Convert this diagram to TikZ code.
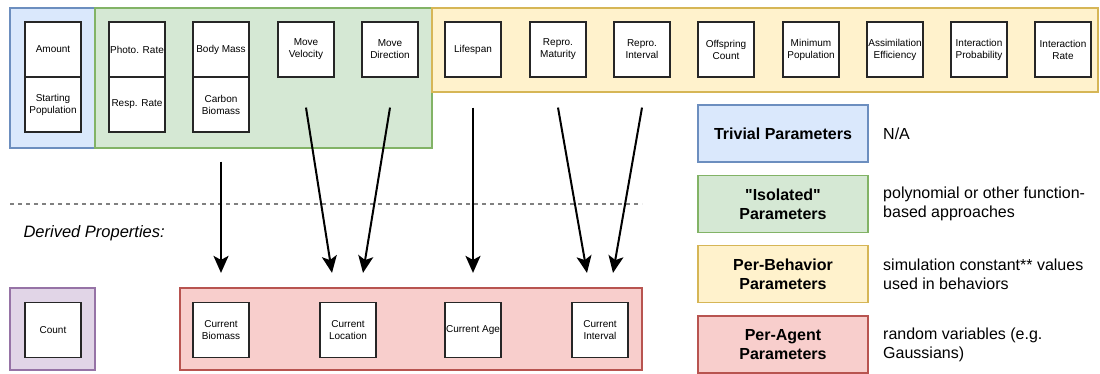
\documentclass[tikz,border=0pt]{standalone}
\usepackage{fontspec}
\setmainfont{Liberation Sans}
\usetikzlibrary{calc, arrows.meta}

\definecolor{trivFill}{HTML}{DAE8FC}
\definecolor{trivLine}{HTML}{6C8EBF}
\definecolor{isoFill}{HTML}{D5E8D4}
\definecolor{isoLine}{HTML}{82B366}
\definecolor{behFill}{HTML}{FFF2CC}
\definecolor{behLine}{HTML}{D6B656}
\definecolor{agentFill}{HTML}{F8CECC}
\definecolor{agentLine}{HTML}{B85450}
\definecolor{derFill}{HTML}{E1D5E7}
\definecolor{derLine}{HTML}{9673A6}

\begin{document}
\begin{tikzpicture}[x=1pt, y=-1pt,
  panel/.style={draw, line width=1.2pt},
  param/.style={draw=black!85, fill=white, line width=1.2pt, minimum width=56pt, minimum height=55pt,
    align=center, inner sep=1pt, font=\fontsize{10}{12}\selectfont},
  legendbox/.style={draw, line width=1.2pt, minimum width=170pt, minimum height=57pt,
    align=center, font=\fontsize{16}{19}\selectfont\bfseries},
  legendtext/.style={anchor=west, align=left, inner sep=0pt, font=\fontsize{16}{19}\selectfont},
  flow/.style={-{Stealth[length=17pt, width=15pt, inset=4pt]}, line width=2pt}]
\useasboundingbox (0,0) rectangle (1100,374);

% parameter groups
\draw[panel, draw=trivLine, fill=trivFill] (10,8) rectangle (95,148);
\draw[panel, draw=isoLine, fill=isoFill] (95,8) rectangle (432,148);
\draw[panel, draw=behLine, fill=behFill] (432,8) rectangle (1098,92);

\node[param] (amount) at (53,49.5) {Amount};
\node[param] (startpop) at (53,104.5) {Starting\\Population};
\node[param] (photo) at (137,49.5) {Photo. Rate};
\node[param] (resp) at (137,104.5) {Resp. Rate};
\node[param] (bodymass) at (221,49.5) {Body Mass};
\node[param] (carbon) at (221,104.5) {Carbon\\Biomass};
\node[param] (velocity) at (306,49.5) {Move\\Velocity};
\node[param] (direction) at (390,49.5) {Move\\Direction};

\node[param] (lifespan) at (473,49.5) {Lifespan};
\node[param] (maturity) at (558,49.5) {Repro.\\Maturity};
\node[param] (interval) at (642,49.5) {Repro.\\Interval};
\node[param] (offspring) at (726,49.5) {Offspring\\Count};
\node[param] (minpop) at (811,49.5) {Minimum\\Population};
\node[param] (assim) at (895,49.5) {Assimilation\\Efficiency};
\node[param] (intprob) at (979,49.5) {Interaction\\Probability};
\node[param] (intrate) at (1063,49.5) {Interaction\\Rate};

% derived properties
\draw[gray, line width=1.2pt, dash pattern=on 4pt off 4pt] (10,204) -- (642,204);
\node[anchor=west, font=\fontsize{16.5}{19}\selectfont\itshape] (derived) at (20,233) {Derived Properties:};

\draw[panel, draw=derLine, fill=derFill] (10,288) rectangle (95,370);
\draw[panel, draw=agentLine, fill=agentFill] (180,288) rectangle (642,370);

\node[param] (count) at (53,330) {Count};
\node[param] (curbio) at (221,330) {Current\\Biomass};
\node[param] (curloc) at (348,330) {Current\\Location};
\node[param] (curage) at (473,330) {Current Age};
\node[param] (curint) at (600,330) {Current\\Interval};

% arrows
\coordinate (bioStart) at ($(carbon.south)+(0,29)$);
\coordinate (velStart) at ($(velocity.south)+(0,30)$);
\coordinate (dirStart) at ($(direction.south)+(0,30)$);
\coordinate (lifeStart) at ($(lifespan.south)+(0,30)$);
\coordinate (matStart) at ($(maturity.south)+(0,30)$);
\coordinate (intStart) at ($(interval.south)+(0,30)$);
\coordinate (bioEnd) at ($(curbio.north)+(0,-29)$);
\coordinate (locEndA) at ($(curloc.north)+(-16,-29)$);
\coordinate (locEndB) at ($(curloc.north)+(15,-29)$);
\coordinate (ageEnd) at ($(curage.north)+(0,-29)$);
\coordinate (intEndA) at ($(curint.north)+(-13,-29)$);
\coordinate (intEndB) at ($(curint.north)+(13,-29)$);
\draw[flow] (bioStart) -- (bioEnd);
\draw[flow] (velStart) -- (locEndA);
\draw[flow] (dirStart) -- (locEndB);
\draw[flow] (lifeStart) -- (ageEnd);
\draw[flow] (matStart) -- (intEndA);
\draw[flow] (intStart) -- (intEndB);

% legend
\node[legendbox, draw=trivLine, fill=trivFill] (trivial) at (783,133.5) {Trivial Parameters};
\node[legendbox, draw=isoLine, fill=isoFill] (isolated) at (783,204) {\textquotedbl Isolated\textquotedbl\\Parameters};
\node[legendbox, draw=behLine, fill=behFill] (perbeh) at (783,274) {Per-Behavior\\Parameters};
\node[legendbox, draw=agentLine, fill=agentFill] (peragent) at (783,344.5) {Per-Agent\\Parameters};
\node[legendtext] (trivtext) at (883,133.5) {N/A};
\node[legendtext] (isotext) at (883,204) {polynomial or other function-\\based approaches};
\node[legendtext] (behtext) at (883,274) {simulation constant** values\\used in behaviors};
\node[legendtext] (agenttext) at (883,344.5) {random variables (e.g.\\Gaussians)};
\end{tikzpicture}
\end{document}
